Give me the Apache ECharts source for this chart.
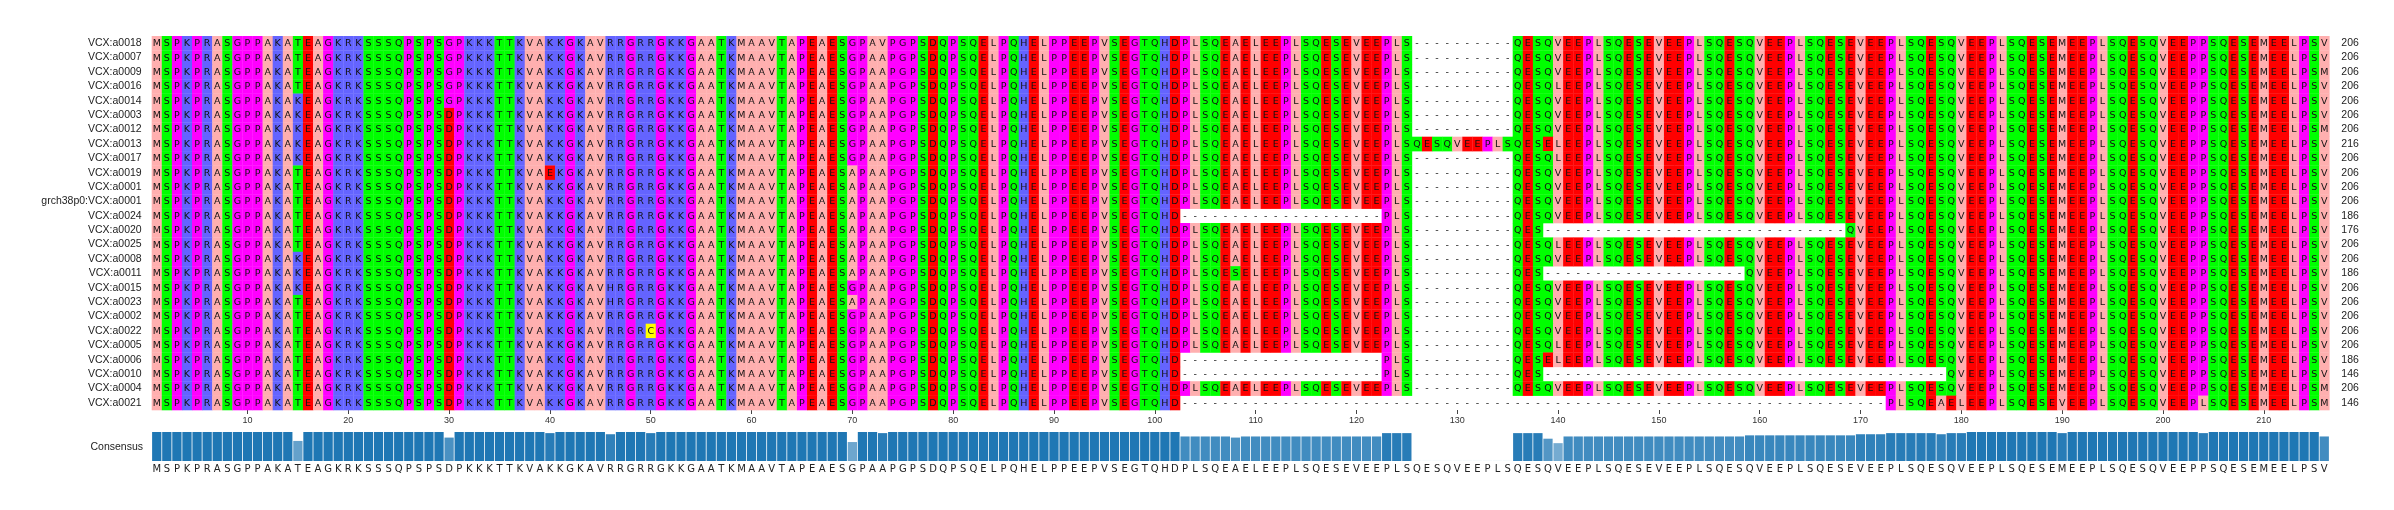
<!DOCTYPE html>
<html><head><meta charset="utf-8">
<script src="https://cdn.jsdelivr.net/npm/echarts@6/dist/echarts.min.js"></script>
<style>html,body{margin:0;padding:0;background:#fff}#c{width:2394px;height:510px}</style>
</head><body><div id="c"></div>
<script>
const names = ["VCX:a0018","VCX:a0007","VCX:a0009","VCX:a0016","VCX:a0014","VCX:a0003","VCX:a0012","VCX:a0013","VCX:a0017","VCX:a0019","VCX:a0001","grch38p0:VCX:a0001","VCX:a0024","VCX:a0020","VCX:a0025","VCX:a0008","VCX:a0011","VCX:a0015","VCX:a0023","VCX:a0002","VCX:a0022","VCX:a0005","VCX:a0006","VCX:a0010","VCX:a0004","VCX:a0021"];
const lengths = [206,206,206,206,206,206,206,216,206,206,206,206,186,176,206,206,186,206,206,206,206,206,186,146,206,146];
// reference alignment pieces (columns 1-102, 103-125, 126-135 gap, 136-216)
const head = "MSPKPRASGPPAKATEAGKRKSSSQPSPSDPKKKTTKVAKKGKAVRRGRRGKKGAATKMAAVTAPEAESGPAAPGPSDQPSQELPQHELPPEEPVSEGTQHD";
const mid = "PLSQEAELEEPLSQESEVEEPLS";
const gapBlock = "----------";
const tail = "QESQVEEPLSQESEVEEPLSQESQVEEPLSQESEVEEPLSQESQVEEPLSQESEMEEPLSQESQVEEPPSQESEMEELPSV";
const insertion = "QESQVEEPLS";
const a0021Tail = "PLSQEAELEEPLSQESEVEEPLSQESQVEEPLSQESEMEELPSM";
const G = n => "-".repeat(n);
// per-row differences: [column (1-based), residues]
const edits = [
 [[30,"G"],[73,"V"]],
 [[30,"G"]],
 [[30,"G"],[216,"M"]],
 [[30,"G"],[140,"L"]],
 [[15,"K"],[30,"G"]],
 [[15,"K"]],
 [[15,"K"],[216,"M"]],
 [[15,"K"],[126,insertion],[139,"EL"]],
 [[15,"K"],[140,"L"]],
 [[40,"E"],[70,"A"]],
 [[70,"A"]],
 [[70,"A"]],
 [[70,"A"],[103,G(20)]],
 [[70,"A"],[139,G(30)],[169,"Q"]],
 [[70,"A"],[140,"L"]],
 [[15,"K"],[70,"A"]],
 [[15,"K"],[70,"A"],[108,"S"],[139,G(20)]],
 [[15,"K"],[46,"H"]],
 [[46,"H"],[70,"A"]],
 [],
 [[50,"C"]],
 [[140,"L"]],
 [[103,G(20)],[139,"EL"]],
 [[103,G(20)],[139,G(40)]],
 [[216,"M"]],
 [[103,G(70)],[173,a0021Tail]]
];
const base = head + mid + gapBlock + tail;
const seqs = edits.map(ed => {
  let s = base.split("");
  ed.forEach(([c, str]) => { for (let i = 0; i < str.length; i++) s[c - 1 + i] = str[i]; });
  return s.join("");
});
const nCol = base.length;
const cols = Array.from({length: nCol}, (_, i) => String(i + 1));

const zappo = {A:"#ffafaf",V:"#ffafaf",L:"#ffafaf",I:"#ffafaf",M:"#ffafaf",F:"#ffc800",W:"#ffc800",Y:"#ffc800",
  K:"#6464ff",R:"#6464ff",H:"#6464ff",D:"#ff0000",E:"#ff0000",S:"#00ff00",T:"#00ff00",N:"#00ff00",Q:"#00ff00",
  P:"#ff00ff",G:"#ff00ff",C:"#ffff00"};

const cells = [], cellChars = [];
seqs.forEach((s, r) => { for (let c = 0; c < nCol; c++) { cells.push([c, r]); cellChars.push(s[c]); } });

// consensus and conservation from the alignment
const consensus = [], conservation = [];
for (let c = 0; c < nCol; c++) {
  const cnt = {};
  seqs.forEach(s => { const ch = s[c]; if (ch !== "-") cnt[ch] = (cnt[ch] || 0) + 1; });
  let best = "-", bc = 0;
  for (const k in cnt) if (cnt[k] > bc) { bc = cnt[k]; best = k; }
  consensus.push(best); conservation.push(bc / seqs.length);
}
function barColor(v) {
  const lerp = a => Math.round(255 + (a - 255) * v);
  return `rgb(${lerp(31)},${lerp(119)},${lerp(180)})`;
}

const chart = echarts.init(document.getElementById("c"), null, {renderer: "canvas"});
const L = 151.7, W = 2177.6;
chart.setOption({
  animation: false,
  grid: [
    {left: L, top: 36, width: W, height: 374},
    {left: L, top: 432, width: W, height: 29}
  ],
  xAxis: [
    {type: "category", gridIndex: 0, data: cols, boundaryGap: true,
     axisLine: {show: false},
     axisTick: {show: true, alignWithLabel: true, length: 4, lineStyle: {color: "#444"}, interval: i => (i + 1) % 10 === 0},
     axisLabel: {interval: i => (i + 1) % 10 === 0, fontSize: 9, color: "#333", margin: 6, fontFamily: "Liberation Sans"}},
    {type: "category", gridIndex: 1, data: cols, boundaryGap: true,
     axisLine: {show: false}, axisTick: {show: false},
     axisLabel: {interval: 0, formatter: (v, i) => consensus[i], fontSize: 10, color: "#222", margin: 3, fontFamily: "DejaVu Sans"}}
  ],
  yAxis: [
    {type: "category", gridIndex: 0, data: names, inverse: true,
     axisLine: {show: false}, axisTick: {show: false},
     axisLabel: {fontSize: 10.5, color: "#222", margin: 10, fontFamily: "Liberation Sans"}},
    {type: "category", gridIndex: 0, data: lengths.map(String), inverse: true, position: "right",
     axisLine: {show: false}, axisTick: {show: false},
     axisLabel: {fontSize: 10.5, color: "#222", margin: 12, align: "left", fontFamily: "Liberation Sans"}},
    {type: "value", gridIndex: 1, min: 0, max: 1, show: false}
  ],
  graphic: [{type: "text", right: 2394 - 143, top: 442, style: {text: "Consensus", fontSize: 10.5, fill: "#222", fontFamily: "Liberation Sans", textAlign: "right"}}],
  series: [
    {type: "custom", xAxisIndex: 0, yAxisIndex: 0, data: cells, progressive: 0,
     encode: {x: 0, y: 1},
     renderItem: (params, api) => {
       const ch = cellChars[params.dataIndex];
       const p = api.coord([api.value(0), api.value(1)]);
       const sz = api.size([1, 1]);
       const children = [];
       if (zappo[ch]) children.push({type: "rect", shape: {x: p[0] - sz[0] / 2, y: p[1] - sz[1] / 2, width: sz[0] + 0.3, height: sz[1] + 0.3}, style: {fill: zappo[ch]}});
       children.push({type: "text", x: p[0], y: p[1] + 0.5, style: {text: ch, fontSize: 9.5, fill: "#111", fontFamily: "DejaVu Sans", align: "center", verticalAlign: "middle"}});
       return {type: "group", children};
     }},
    {type: "bar", xAxisIndex: 1, yAxisIndex: 2, barCategoryGap: "8%",
     data: conservation.map(v => ({value: v, itemStyle: {color: barColor(v)}}))}
  ]
});
</script></body></html>
